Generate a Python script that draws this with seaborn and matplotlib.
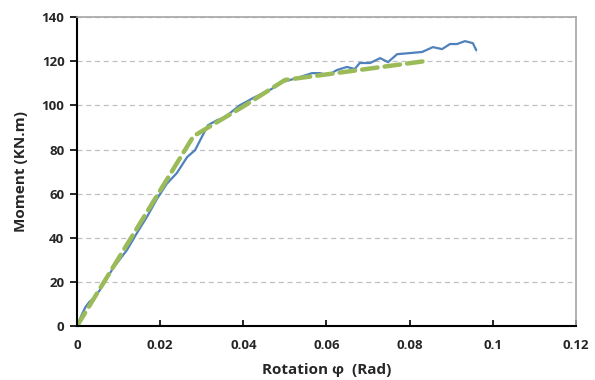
import numpy as np
import pandas as pd
import matplotlib
matplotlib.use("Agg")
import matplotlib.pyplot as plt
import seaborn as sns

# test curve
rot_test = [0, 0.001, 0.002, 0.003, 0.004, 0.0055, 0.0087, 0.012, 0.0144, 0.0168,
            0.0192, 0.0216, 0.024, 0.0265, 0.0284, 0.030, 0.0315, 0.0337, 0.0351, 0.0368,
            0.0392, 0.0411, 0.0423, 0.0464, 0.0495, 0.0529, 0.0565, 0.0584, 0.0604, 0.0625,
            0.0649, 0.0668, 0.068, 0.0705, 0.0729, 0.0748, 0.077, 0.0801, 0.083, 0.0856,
            0.0878, 0.0897, 0.0914, 0.0933, 0.0952, 0.096, 0.096]
mom_test = [0, 4.5, 8.5, 11.0, 12.5, 16.3, 26.3, 34.4, 42.1, 49.4,
            57.5, 64.5, 69.3, 76.6, 79.7, 85.6, 91.0, 93.3, 94.2, 96.5,
            100.1, 102.0, 103.3, 107.0, 110.6, 112.4, 114.6, 114.6, 113.7, 116.0,
            117.4, 116.5, 119.2, 119.2, 121.4, 119.6, 123.2, 123.7, 124.2, 126.4,
            125.5, 127.8, 127.8, 129.1, 128.2, 126.4, 123.7]

# idealised (dashed) curve
rot_model = [0, 0.028, 0.032, 0.040, 0.050, 0.0835]
mom_model = [0, 86.0, 90.5, 99.5, 111.5, 120.0]

x_ticks = [0, 0.02, 0.04, 0.06, 0.08, 0.1, 0.12]
x_tick_labels = ["0", "0.02", "0.04", "0.06", "0.08", "0.1", "0.12"]
y_ticks = [0, 20, 40, 60, 80, 100, 120, 140]

sns.set_theme(style="white")
plt.rcParams["font.family"] = ["Open Sans", "DejaVu Sans"]

fig = plt.figure(figsize=(5.95, 3.8), dpi=100)
ax = fig.add_axes([0.1294, 0.142, 0.8386, 0.813])

test_df = pd.DataFrame({"rot": rot_test, "mom": mom_test})
model_df = pd.DataFrame({"rot": rot_model, "mom": mom_model})

sns.lineplot(data=test_df, x="rot", y="mom", sort=False, color="#4F81BD",
             linewidth=1.6, ax=ax)
ax.lines[-1].set_solid_joinstyle("round")
ax.lines[-1].set_solid_capstyle("round")
sns.lineplot(data=model_df, x="rot", y="mom", sort=False, color="#9BBB59",
             linewidth=3.2, dashes=False, ax=ax)
ax.lines[-1].set_dashes([3.5, 1.6])
ax.lines[-1].set_dash_capstyle("round")
ax.lines[-1].set_dash_joinstyle("round")

ax.set_xlim(0, 0.12)
ax.set_ylim(0, 140)
ax.set_xticks(x_ticks)
ax.set_xticklabels(x_tick_labels)
ax.set_yticks(y_ticks)

ax.yaxis.grid(True, color="#C0C0C0", linestyle=(0, (4, 3)), linewidth=0.9)
ax.xaxis.grid(False)

for s in ["left", "bottom"]:
    ax.spines[s].set_color("black")
    ax.spines[s].set_linewidth(1.5)
for s in ["top", "right"]:
    ax.spines[s].set_color("#A6A6A6")
    ax.spines[s].set_linewidth(1.2)

ax.tick_params(axis="y", direction="out", length=5, width=1.2, color="black",
               labelsize=9.5, pad=4, left=True)
ax.tick_params(axis="x", direction="in", length=4, width=1.2, color="black",
               labelsize=9.5, pad=9, bottom=True)
for lab in ax.get_xticklabels() + ax.get_yticklabels():
    lab.set_fontweight("bold")

ax.set_xlabel("Rotation φ  (Rad)", fontsize=11, fontweight="bold", labelpad=8)
ax.set_ylabel("Moment (KN.m)", fontsize=11, fontweight="bold", labelpad=10)

fig.savefig("out.png", dpi=100)
